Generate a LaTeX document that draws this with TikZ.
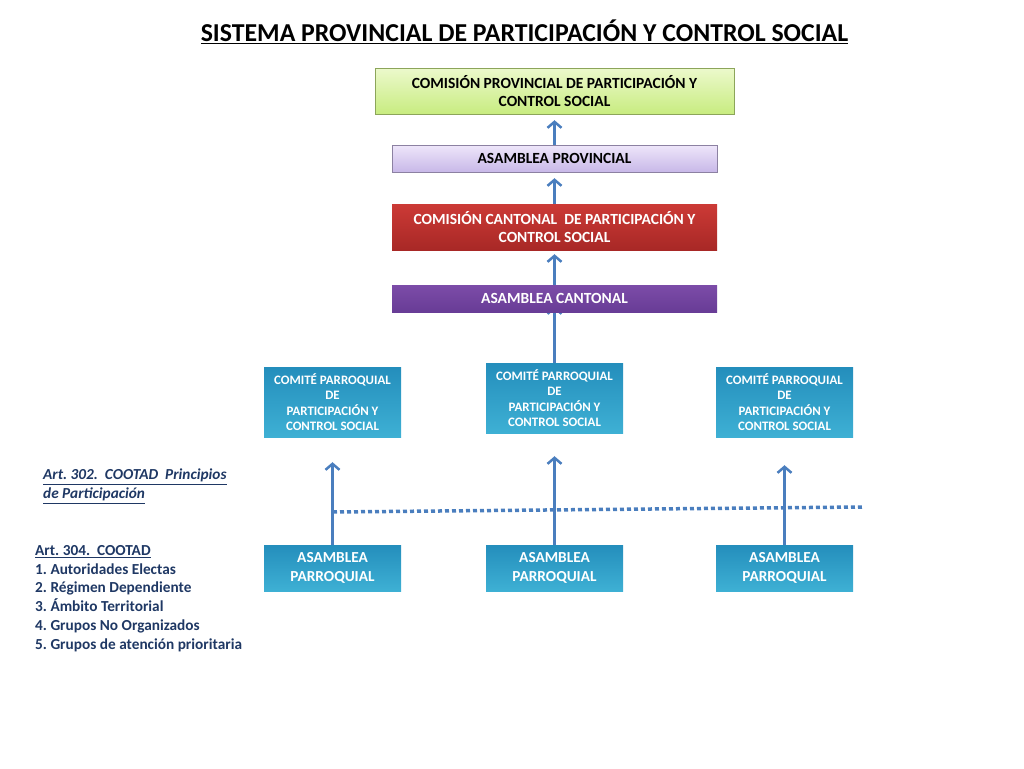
\documentclass[tikz,border=0pt]{standalone}
\usepackage{fontspec}
\setmainfont{Carlito}
\usetikzlibrary{arrows.meta,backgrounds}
\frenchspacing

\definecolor{flecha}{RGB}{74,126,190}
\definecolor{tinta}{RGB}{31,56,100}
\definecolor{verdeA}{RGB}{236,249,204}
\definecolor{verdeB}{RGB}{200,236,128}
\definecolor{lilaA}{RGB}{238,230,250}
\definecolor{lilaB}{RGB}{200,184,232}
\definecolor{rojoA}{RGB}{204,58,54}
\definecolor{rojoB}{RGB}{168,40,38}
\definecolor{moradoA}{RGB}{124,76,168}
\definecolor{moradoB}{RGB}{104,60,150}
\definecolor{azulA}{RGB}{36,142,188}
\definecolor{azulB}{RGB}{62,176,212}

\tikzset{
	caja/.style={inner sep=0pt, align=center, font=\bfseries\fontsize{15.5}{18.5}\selectfont},
	ancha/.style={caja, minimum width=325pt},
	comite/.style={inner sep=0pt, align=center, text=white, top color=azulA, bottom color=azulB,
		minimum width=137pt, minimum height=70pt, font=\bfseries\fontsize{12.9}{15.3}\selectfont},
	parroquia/.style={caja, text=white, top color=azulA, bottom color=azulB,
		minimum width=137pt, minimum height=46pt, font=\bfseries\fontsize{15.3}{18.5}\selectfont},
	sube/.style={flecha, line width=3pt, -{Straight Barb[length=6pt,width=14pt,line width=2.5pt]}},
	nota/.style={anchor=north west, inner sep=0pt, align=left, text=tinta}
}

\begin{document}
\begin{tikzpicture}[x=1pt,y=-1pt]
	\useasboundingbox (0,0) rectangle (1024,768);

	% titulo
	\node (titulo) at (524.5,32) {\bfseries\fontsize{25.8}{30}\selectfont\underline{SISTEMA PROVINCIAL DE PARTICIPACIÓN Y CONTROL SOCIAL}};

	% nivel provincial y cantonal
	\node[caja, draw=verdeB!70!black, top color=verdeA, bottom color=verdeB,
		minimum width=359pt, minimum height=46pt] (comprov) at (554.5,91)
		{COMISIÓN PROVINCIAL DE PARTICIPACIÓN Y\\CONTROL SOCIAL};
	\node[ancha, draw=lilaB!70!black, top color=lilaA, bottom color=lilaB,
		minimum height=27pt] (asprov) at (554.5,158.5) {ASAMBLEA PROVINCIAL};
	\node[ancha, text=white, top color=rojoA, bottom color=rojoB,
		minimum height=46pt] (comcant) at (554.5,227) {COMISIÓN CANTONAL\ \ DE PARTICIPACIÓN Y\\CONTROL SOCIAL};
	\node[ancha, text=white, top color=moradoA, bottom color=moradoB,
		minimum height=27pt] (ascant) at (554.5,298.5) {ASAMBLEA CANTONAL};

	% comites parroquiales
	\node[comite] (comiteA) at (332.5,402) {COMITÉ PARROQUIAL\\DE\\PARTICIPACIÓN Y\\CONTROL SOCIAL};
	\node[comite] (comiteB) at (554.5,398) {COMITÉ PARROQUIAL\\DE\\PARTICIPACIÓN Y\\CONTROL SOCIAL};
	\node[comite] (comiteC) at (784.5,402) {COMITÉ PARROQUIAL\\DE\\PARTICIPACIÓN Y\\CONTROL SOCIAL};

	% asambleas parroquiales
	\node[parroquia] (asparA) at (332.5,568) {ASAMBLEA\\PARROQUIAL};
	\node[parroquia] (asparB) at (554.5,568) {ASAMBLEA\\PARROQUIAL};
	\node[parroquia] (asparC) at (784.5,568) {ASAMBLEA\\PARROQUIAL};

	% flechas
	\draw[sube, shorten >=6pt] (asprov.north) -- (comprov.south);
	\draw[sube, shorten >=6pt] (comcant.north) -- (asprov.south);
	\draw[sube, shorten >=4pt] (ascant.north) -- (comcant.south);
	\begin{scope}[on background layer]
		\draw[sube] (comiteB.north) -- ([yshift=6pt]ascant.south);
	\end{scope}
	\draw[sube] (asparA.north) -- ([yshift=-25pt]comiteA.south);
	\draw[sube] (asparB.north) -- ([yshift=-23pt]comiteB.south);
	\draw[sube] (asparC.north) -- ([yshift=-28pt]comiteC.south);

	% linea punteada
	\coordinate (puntoA) at (333,512);
	\coordinate (puntoB) at (862,507);
	\draw[flecha, line width=3.5pt, dash pattern=on 4pt off 3pt] (puntoA) -- (puntoB);

	% textos de la izquierda
	\node[nota, font=\bfseries\itshape\fontsize{15.3}{19}\selectfont] (art302) at (43,469)
		{\underline{Art. 302.\ \ COOTAD\ \ Principios}\\\underline{de Participación}};
	\node[nota, font=\bfseries\fontsize{15.3}{18.8}\selectfont] (art304) at (35,545)
		{\underline{Art. 304.\ \ COOTAD}\\1. Autoridades Electas\\2. Régimen Dependiente\\3. Ámbito Territorial\\4. Grupos No Organizados\\5. Grupos de atención prioritaria};
\end{tikzpicture}
\end{document}
